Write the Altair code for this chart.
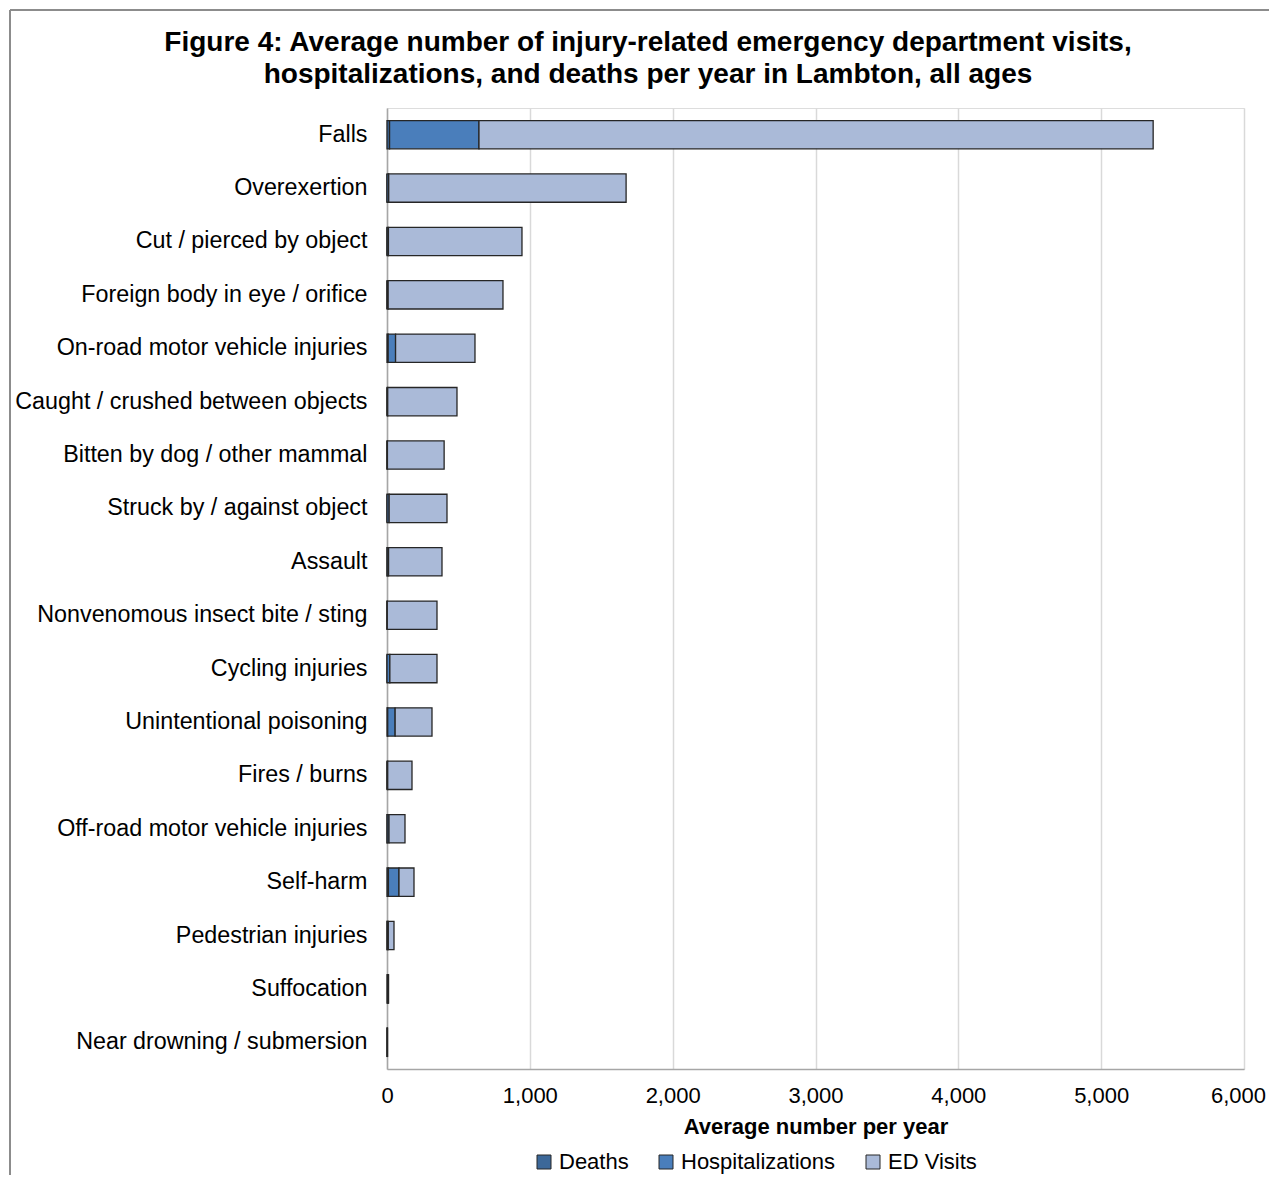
import altair as alt
import pandas as pd

categories = [
    "Falls", "Overexertion", "Cut / pierced by object", "Foreign body in eye / orifice",
    "On-road motor vehicle injuries", "Caught / crushed between objects",
    "Bitten by dog / other mammal", "Struck by / against object", "Assault",
    "Nonvenomous insect bite / sting", "Cycling injuries", "Unintentional poisoning",
    "Fires / burns", "Off-road motor vehicle injuries", "Self-harm",
    "Pedestrian injuries", "Suffocation", "Near drowning / submersion",
]
deaths = [18, 0, 0, 0, 8, 0, 0, 0, 1, 0, 0, 5, 0, 1, 10, 1, 4, 1]
hospitalizations = [626, 12, 10, 8, 52, 5, 3, 15, 10, 2, 20, 52, 5, 13, 74, 8, 5, 1]
ed_visits = [4720, 1662, 935, 804, 556, 485, 397, 405, 374, 348, 330, 258, 170, 112, 105, 40, 2, 2]

series = ["Deaths", "Hospitalizations", "ED Visits"]
colors = ["#3C6899", "#4A7EBB", "#AABAD8"]
x_ticks = [0, 1000, 2000, 3000, 4000, 5000, 6000]

title_lines = [
    "Figure 4: Average number of injury-related emergency department visits,",
    "hospitalizations, and deaths per year in Lambton, all ages",
]

rows = []
for i, c in enumerate(categories):
    for k, (s, vals) in enumerate(zip(series, [deaths, hospitalizations, ed_visits])):
        rows.append({"Category": c, "Type": s, "Value": vals[i], "order": k})
df = pd.DataFrame(rows)

W, H = 857, 961
PAD_L, PAD_T, PAD_R, PAD_B = 379, 100, 25, 106
FONT = "Liberation Sans"

bars = alt.Chart(df).mark_bar(stroke="#262626", strokeWidth=1.3).encode(
    y=alt.Y("Category:N", sort=categories,
            scale=alt.Scale(paddingInner=0.47, paddingOuter=0.235),
            axis=alt.Axis(title=None, labelFontSize=23.3, labelColor="#000", labelFont=FONT,
                          ticks=False, labelPadding=20, labelLimit=500,
                          domainColor="#a6a6a6", domainWidth=1.5, grid=False)),
    x=alt.X("Value:Q", scale=alt.Scale(domain=[0, 6000], nice=False),
            axis=alt.Axis(title="Average number per year", values=x_ticks,
                          format=",.0f", labelFontSize=22, labelColor="#000", labelFont=FONT,
                          labelFlush=False, labelOverlap=False,
                          labelOffset={"condition": {"test": "datum.value == 6000", "value": -6}, "value": 0},
                          ticks=False, labelPadding=16, titleFontSize=22, titleFont=FONT,
                          titleFontWeight="bold", titleColor="#000", titlePadding=10,
                          domainColor="#a6a6a6", domainWidth=1.5,
                          grid=True, gridColor="#d9d9d9", gridWidth=1.5)),
    color=alt.Color("Type:N", sort=series,
                    scale=alt.Scale(domain=series, range=colors),
                    legend=alt.Legend(title=None, orient="none", direction="horizontal",
                                      legendX=146, legendY=1043, symbolType="square",
                                      symbolSize=196, symbolStrokeColor="#262626",
                                      symbolStrokeWidth=1, labelFontSize=22, labelFont=FONT,
                                      labelColor="#000", labelOffset=4, columnPadding=26)),
    order=alt.Order("order:Q"),
)

frame_left = alt.Chart(df).mark_rule(color="#8c8c8c", strokeWidth=2).encode(
    x=alt.value(-377), y=alt.value(-98), y2=alt.value(H + PAD_B)
)
frame_top = alt.Chart(df).mark_rule(color="#8c8c8c", strokeWidth=2).encode(
    x=alt.value(-377), x2=alt.value(W + PAD_R), y=alt.value(-98)
)

title1 = alt.Chart(pd.DataFrame({"t": [title_lines[0]]})).mark_text(
    font=FONT, fontSize=28, fontWeight="bold", color="#000", align="center", baseline="alphabetic"
).encode(text="t:N", x=alt.value(261), y=alt.value(-57))
title2 = alt.Chart(pd.DataFrame({"t": [title_lines[1]]})).mark_text(
    font=FONT, fontSize=28, fontWeight="bold", color="#000", align="center", baseline="alphabetic"
).encode(text="t:N", x=alt.value(261), y=alt.value(-25))

chart = alt.layer(bars, frame_left, frame_top, title1, title2).properties(
    width=W, height=H,
    padding={"left": PAD_L, "top": PAD_T, "right": PAD_R, "bottom": PAD_B},
    autosize=alt.AutoSizeParams(type="none"),
).configure_view(stroke=None).configure(background="white")

chart.save("out.html", embed_options={"renderer": "svg", "actions": False})
